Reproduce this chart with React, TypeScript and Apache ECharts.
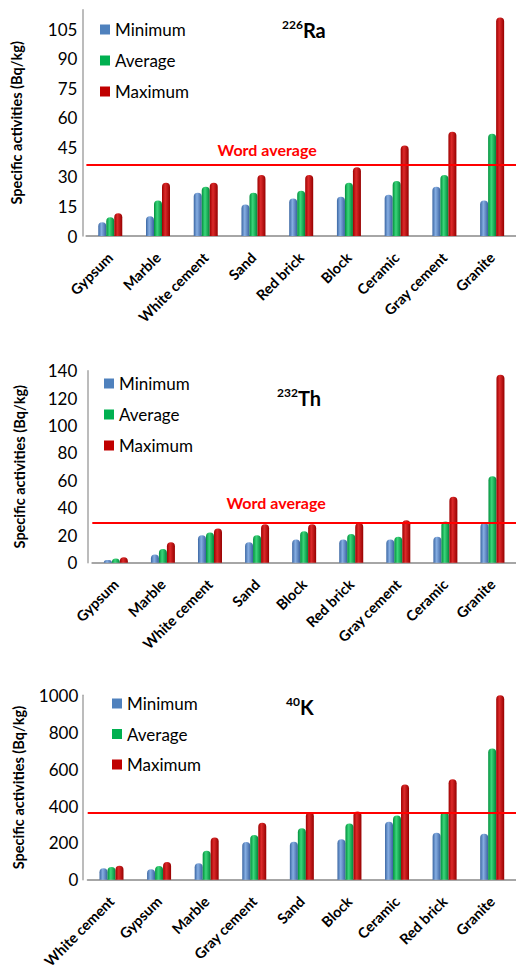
import React, { useEffect, useRef } from "react";
import * as echarts from "echarts";

const seriesNames = ["Minimum", "Average", "Maximum"];

const categoriesRa = ["Gypsum", "Marble", "White cement", "Sand", "Red brick", "Block", "Ceramic", "Gray cement", "Granite"];
const raMin = [7, 10, 22, 16, 19, 20, 21, 25, 18];
const raAvg = [9.5, 18, 25, 22, 23, 27, 28, 31, 52];
const raMax = [11.5, 27, 27, 31, 31, 35, 46, 53, 111];
const raWorld = 36;

const categoriesTh = ["Gypsum", "Marble", "White cement", "Sand", "Block", "Red brick", "Gray cement", "Ceramic", "Granite"];
const thMin = [2, 6, 20, 15, 17, 17, 17, 19, 29];
const thAvg = [3, 10, 22, 20, 23, 21, 19, 30, 63];
const thMax = [4, 15, 25, 28, 28, 29, 31, 48, 137];
const thWorld = 29;

const categoriesK = ["White cement", "Gypsum", "Marble", "Gray cement", "Sand", "Block", "Ceramic", "Red brick", "Granite"];
const kMin = [63, 58, 90, 205, 206, 220, 315, 255, 250];
const kAvg = [70, 75, 158, 243, 280, 305, 348, 367, 712];
const kMax = [77, 97, 230, 310, 366, 370, 517, 545, 1000];
const kWorld = 363;

const FONT = "Lato";
const flatColors = ["#4F81BD", "#00B050", "#C00000"];
const gradStops = [
  ["#3a66a3", "#86aee2", "#3a62a0"],
  ["#008f3c", "#3bd67a", "#00863a"],
  ["#9e0000", "#dc2a2a", "#960000"],
];

function cyl(i: number) {
  return {
    type: "linear",
    x: 0,
    y: 0,
    x2: 1,
    y2: 0,
    colorStops: [
      { offset: 0, color: gradStops[i][0] },
      { offset: 0.4, color: gradStops[i][1] },
      { offset: 1, color: gradStops[i][2] },
    ],
  };
}

export default function App() {
  const ref = useRef<HTMLDivElement>(null);
  useEffect(() => {
    if (!ref.current) return;
    const chart = echarts.init(ref.current, null, { renderer: "svg" });

    const panels = [
      {
        cats: categoriesRa, data: [raMin, raAvg, raMax], world: raWorld, label: true,
        grid: { left: 86.4, top: 9.7, width: 437, height: 226.3 },
        max: 115, interval: 15, offset: 4, labelMargin: 5, nameGap: 58,
        legend: { left: 95, top: 16, itemGap: 14 },
        title: { sup: "226", main: "Ra", left: 277, top: 13 },
        labelOffset: [-34, 0],
      },
      {
        cats: categoriesTh, data: [thMin, thAvg, thMax], world: thWorld, label: true,
        grid: { left: 92.3, top: 370.7, width: 427, height: 192 },
        max: 140, interval: 20, offset: 5, labelMargin: 10, nameGap: 60,
        legend: { left: 99, top: 370, itemGap: 14 },
        title: { sup: "232", main: "Th", left: 272, top: 381 },
        labelOffset: [-28, -4],
      },
      {
        cats: categoriesK, data: [kMin, kAvg, kMax], world: kWorld, label: false,
        grid: { left: 87.7, top: 695.3, width: 432, height: 186.4 },
        max: 1000, interval: 200, offset: 5.4, labelMargin: 4, nameGap: 56,
        legend: { left: 107, top: 690, itemGap: 13.5 },
        title: { sup: "40", main: "K", left: 281, top: 690 },
        labelOffset: [0, 0],
      },
    ];

    const option: any = {
      animation: false,
      backgroundColor: "#ffffff",
      textStyle: { fontFamily: FONT },
      grid: panels.map((p) => p.grid),
      title: panels.map((p) => ({
        text: "{s|" + p.title.sup + "}{m|" + p.title.main + "}",
        left: p.title.left,
        top: p.title.top,
        textStyle: {
          rich: {
            s: { fontSize: 12, fontWeight: "bold", fontFamily: FONT, color: "#000", lineHeight: 12, verticalAlign: "top" },
            m: { fontSize: 20, fontWeight: "bold", fontFamily: FONT, color: "#000", lineHeight: 24 },
          },
        },
      })),
      legend: panels.map((p) => ({
        orient: "vertical",
        left: p.legend.left,
        top: p.legend.top,
        itemGap: p.legend.itemGap,
        itemWidth: 10,
        itemHeight: 10,
        icon: "rect",
        textStyle: { fontFamily: FONT, fontSize: 17, color: "#000", lineHeight: 17 },
        data: seriesNames.map((n, i) => ({ name: n, itemStyle: { color: flatColors[i] } })),
        selectedMode: false,
      })),
      xAxis: panels.map((p, gi) => ({
        type: "category",
        gridIndex: gi,
        data: p.cats,
        axisLine: { lineStyle: { color: "#a6a6a6", width: 2 } },
        axisTick: { show: false },
        axisLabel: {
          interval: 0,
          rotate: 45,
          margin: 19,
          fontFamily: FONT,
          fontSize: 14.5,
          fontWeight: "bold",
          color: "#000",
        },
      })),
      yAxis: panels.map((p, gi) => ({
        type: "value",
        gridIndex: gi,
        min: 0,
        max: p.max,
        interval: p.interval,
        offset: p.offset,
        name: "Specific activities (Bq/kg)",
        nameLocation: "middle",
        nameGap: p.nameGap,
        nameTextStyle: { fontFamily: FONT, fontSize: 14.5, fontWeight: "bold", color: "#000" },
        axisLine: { show: true, lineStyle: { color: "#a6a6a6", width: 1.5 } },
        axisTick: { show: false },
        splitLine: { show: false },
        axisLabel: {
          showMaxLabel: p.max % p.interval === 0,
          margin: p.labelMargin,
          fontFamily: FONT,
          fontSize: 17,
          color: "#000",
          formatter: (v: number) => String(v),
        },
      })),
      series: panels.flatMap((p, gi) =>
        p.data.map((vals, si) => {
          const s: any = {
            name: seriesNames[si],
            type: "bar",
            xAxisIndex: gi,
            yAxisIndex: gi,
            data: vals,
            barWidth: 8,
            barGap: "0%",
            itemStyle: { color: cyl(si), borderRadius: [4, 4, 0, 0] },
          };
          if (si === 2) {
            s.markLine = {
              silent: true,
              symbol: "none",
              lineStyle: { color: "#ff0000", width: 2, type: "solid" },
              label: p.label
                ? {
                    show: true,
                    position: "middle",
                    formatter: "Word average",
                    color: "#ff0000",
                    fontFamily: FONT,
                    fontWeight: "bold",
                    fontSize: 16,
                    distance: 8,
                    offset: p.labelOffset,
                  }
                : { show: false },
              data: [{ yAxis: p.world }],
            };
          }
          return s;
        })
      ),
    };

    chart.setOption(option);
    return () => chart.dispose();
  }, []);

  return (
    <div
      ref={ref}
      style={{ position: "absolute", left: 0, top: 0, width: 516, height: 971, background: "#fff" }}
    />
  );
}
